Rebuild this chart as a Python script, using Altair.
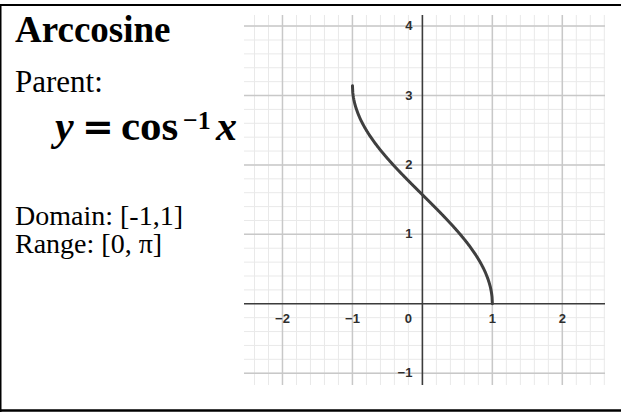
import altair as alt
import numpy as np
import pandas as pd

# Plot window (data units)
x_domain = [-2.55, 2.61]
y_domain = [-1.17, 4.16]

# Grid and tick values
major_x = [-2, -1, 1, 2]
major_y = [-1, 1, 2, 3, 4]
minor_x = [round(v, 1) for v in np.arange(-2.4, 2.61, 0.2)]
minor_y = [round(v, 1) for v in np.arange(-1.0, 4.11, 0.2)]

x_tick_values = [-2, -1, 1, 2]
x_tick_labels = ["\u22122", "\u22121", "1", "2"]
y_tick_values = [-1, 1, 2, 3, 4]
y_tick_labels = ["\u22121", "1", "2", "3", "4"]

# y = arccos(x) on [-1, 1]
curve_x = np.linspace(-1.0, 1.0, 401)
curve_y = np.arccos(curve_x)

W, H = 361, 370
PAD_L, PAD_T = 244, 15

xs = alt.Scale(domain=x_domain, nice=False, zero=False)
ys = alt.Scale(domain=y_domain, nice=False, zero=False)

minor_gx = alt.Chart(pd.DataFrame({"v": minor_x})).mark_rule(
    color="#e9e9e9", strokeWidth=1
).encode(x=alt.X("v:Q", scale=xs, axis=None))
minor_gy = alt.Chart(pd.DataFrame({"v": minor_y})).mark_rule(
    color="#e9e9e9", strokeWidth=1
).encode(y=alt.Y("v:Q", scale=ys, axis=None))
major_gx = alt.Chart(pd.DataFrame({"v": major_x})).mark_rule(
    color="#c8c8c8", strokeWidth=1.5
).encode(x=alt.X("v:Q", scale=xs, axis=None))
major_gy = alt.Chart(pd.DataFrame({"v": major_y})).mark_rule(
    color="#c8c8c8", strokeWidth=1.5
).encode(y=alt.Y("v:Q", scale=ys, axis=None))

axis_x = alt.Chart(pd.DataFrame({"v": [0]})).mark_rule(
    color="#3c3c3c", strokeWidth=1.6
).encode(y=alt.Y("v:Q", scale=ys, axis=None))
axis_y = alt.Chart(pd.DataFrame({"v": [0]})).mark_rule(
    color="#3c3c3c", strokeWidth=1.6
).encode(x=alt.X("v:Q", scale=xs, axis=None))

curve = alt.Chart(pd.DataFrame({"x": curve_x, "y": curve_y})).mark_line(
    color="#3f3f3f", strokeWidth=3, strokeCap="round"
).encode(
    x=alt.X("x:Q", scale=xs, axis=None),
    y=alt.Y("y:Q", scale=ys, axis=None),
    order="x:Q",
)

tick_font = dict(font="Liberation Sans", fontWeight="bold", fontSize=13, color="#2e2e2e")

xlab = alt.Chart(pd.DataFrame({"v": x_tick_values, "t": x_tick_labels, "z": 0})).mark_text(
    align="center", baseline="middle", dy=15, **tick_font
).encode(x=alt.X("v:Q", scale=xs, axis=None), y=alt.Y("z:Q", scale=ys, axis=None), text="t:N")
zlab = alt.Chart(pd.DataFrame({"v": [0], "t": ["0"]})).mark_text(
    align="center", baseline="middle", dx=-14, dy=15, **tick_font
).encode(x=alt.X("v:Q", scale=xs, axis=None), y=alt.Y("v:Q", scale=ys, axis=None), text="t:N")
ylab = alt.Chart(pd.DataFrame({"v": y_tick_values, "t": y_tick_labels, "z": 0})).mark_text(
    align="right", baseline="middle", dx=-10, **tick_font
).encode(x=alt.X("z:Q", scale=xs, axis=None), y=alt.Y("v:Q", scale=ys, axis=None), text="t:N")


def label(text, x, y, size, weight="normal", style="normal", font="Liberation Serif"):
    return alt.Chart(pd.DataFrame({"t": [text]})).mark_text(
        align="left", baseline="alphabetic", font=font, fontSize=size,
        fontWeight=weight, fontStyle=style, color="#000000",
    ).encode(x=alt.value(x - PAD_L), y=alt.value(y - PAD_T), text="t:N")


texts = [
    label("Arccosine", 15, 42, 37, weight="bold"),
    label("Parent:", 15, 92, 31),
    label("y", 55, 140, 42, weight="bold", style="italic"),
    label("=", 82, 140, 38, weight="bold", font="DejaVu Serif"),
    label("cos", 121, 140, 43, weight="bold"),
    label("\u22121", 183, 129, 26, weight="bold"),
    label("x", 216, 140, 42, weight="bold", style="italic"),
    label("Domain: [-1,1]", 15, 225, 28),
    label("Range: [0, \u03c0]", 15, 253, 28),
]

# Frame lines around the card (left, top, bottom)
frame = [
    alt.Chart(pd.DataFrame({"a": [0]})).mark_rule(color="#000000", strokeWidth=2).encode(
        x=alt.value(-PAD_L), x2=alt.value(621 - PAD_L), y=alt.value(5 - PAD_T)),
    alt.Chart(pd.DataFrame({"a": [0]})).mark_rule(color="#000000", strokeWidth=2.5).encode(
        x=alt.value(-PAD_L), x2=alt.value(621 - PAD_L), y=alt.value(410.5 - PAD_T)),
    alt.Chart(pd.DataFrame({"a": [0]})).mark_rule(color="#000000", strokeWidth=1.5).encode(
        x=alt.value(0.75 - PAD_L), y=alt.value(4 - PAD_T), y2=alt.value(412 - PAD_T)),
]

chart = alt.layer(
    minor_gx, minor_gy, major_gx, major_gy, axis_x, axis_y, curve,
    xlab, zlab, ylab, *texts, *frame,
).properties(
    width=W, height=H,
    autosize=alt.AutoSizeParams(type="none"),
    padding={"left": PAD_L, "top": PAD_T, "right": 621 - PAD_L - W, "bottom": 412 - PAD_T - H},
    background="#ffffff",
).configure_view(stroke=None)

chart.save("out.html", embed_options={"renderer": "svg", "actions": False})
